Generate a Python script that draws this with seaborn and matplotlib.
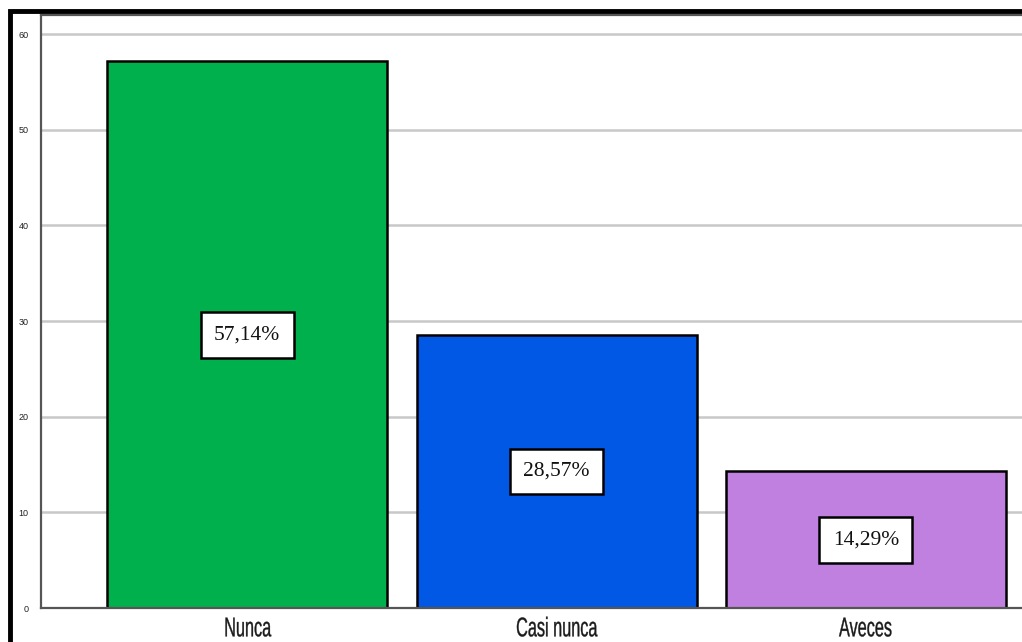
import matplotlib
matplotlib.use("Agg")
import matplotlib.pyplot as plt
import seaborn as sns
import pandas as pd
from matplotlib.patches import Rectangle
from matplotlib.transforms import Affine2D
from matplotlib.patheffects import AbstractPathEffect

categories = ["Nunca", "Casi nunca", "Aveces"]
values = [57.14, 28.57, 14.29]
colors = ["#00B04C", "#0058E4", "#C080DF"]
yticks = [0, 10, 20, 30, 40, 50, 60]

sns.set_theme(style="white")
plt.rcParams['font.family'] = ['Liberation Sans', 'DejaVu Sans']


class Squeeze(AbstractPathEffect):
    """Draw text horizontally compressed about its own centre (narrow font look)."""
    def __init__(self, sx=0.6, stroke=0.25):
        super().__init__()
        self.sx = sx
        self.stroke = stroke

    def draw_path(self, renderer, gc, tpath, affine, rgbFace=None):
        ext = affine.transform_path(tpath).get_extents()
        cx = 0.5 * (ext.x0 + ext.x1)
        new_aff = affine + Affine2D().translate(-cx, 0).scale(self.sx, 1).translate(cx, 0)
        gc0 = renderer.new_gc()
        gc0.copy_properties(gc)
        gc0.set_linewidth(self.stroke)
        gc0.set_foreground(rgbFace if rgbFace is not None else "black")
        renderer.draw_path(gc0, tpath, new_aff, rgbFace)
        gc0.restore()


fig = plt.figure(figsize=(10.22, 6.42), dpi=100)
fig.patch.set_facecolor("white")
ax = fig.add_axes([41/1022, 34/642, 1.0 - 41/1022 + 0.01, (608-15)/642])

df = pd.DataFrame({"cat": categories, "val": values})
sns.barplot(data=df, x="cat", y="val", hue="cat", palette=colors, legend=False, saturation=1,
            edgecolor="black", linewidth=1.8, width=0.905, ax=ax, zorder=3)

ax.set_xlim(-0.667, 2.508 + 0.03)
ax.set_ylim(0, 62)
ax.set_yticks(yticks)
ax.set_yticklabels([str(t) for t in yticks], fontsize=6.5, color="#222222")
ax.yaxis.grid(True, color="#c8c8c8", linewidth=1.8, zorder=0)
ax.set_axisbelow(True)
ax.tick_params(axis="y", length=0, pad=9)
ax.tick_params(axis="x", length=0, pad=6)
for lab in ax.get_xticklabels():
    lab.set_fontsize(19.5)
    lab.set_color("#1a1a1a")
    lab.set_path_effects([Squeeze(0.6, 0.25)])
ax.set_xlabel("")
ax.set_ylabel("")
for s in ["left", "bottom", "top"]:
    ax.spines[s].set_color("#555555")
    ax.spines[s].set_linewidth(1.6)
    ax.spines[s].set_zorder(10)
ax.spines["right"].set_visible(False)

for i, v in enumerate(values):
    ax.text(i, v / 2, f"{v:.2f}".replace(".", ",") + "%", ha="center", va="center",
            fontsize=15.5, family=['Liberation Serif', 'DejaVu Serif'], color="#111111", zorder=5,
            bbox=dict(boxstyle="square,pad=0.62", facecolor="white", edgecolor="black", linewidth=1.8))

fig.add_artist(Rectangle((10/1022, -0.1), 1.2, 1 - 11/642 + 0.1, transform=fig.transFigure,
                         fill=False, edgecolor="black", linewidth=3.5, clip_on=False))

fig.savefig("out.png", dpi=100)
